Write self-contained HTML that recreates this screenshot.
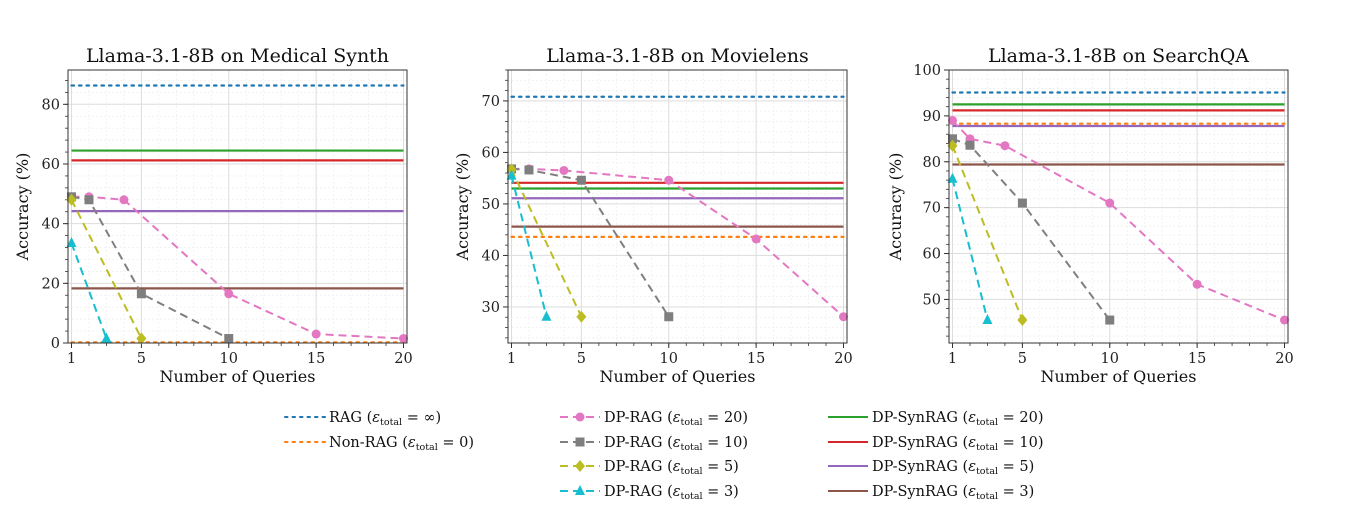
<!DOCTYPE html>
<html><head><meta charset="utf-8"><style>
body{margin:0;background:#fff}
svg{display:block;font-family:"DejaVu Serif","Liberation Serif",serif}
</style></head><body>
<svg id="c" width="1365" height="527" viewBox="0 0 1365 527"></svg>
<script>
const xQueries=[1,2,4,10,15,20];
const xGray=[1,2,5,10];
const xYellow=[1,5];
const xCyan=[1,3];
const titles=["Llama-3.1-8B on Medical Synth","Llama-3.1-8B on Movielens","Llama-3.1-8B on SearchQA"];
const pinkVals=[[49,49,48,16.5,3,1.5],[56.8,56.8,56.5,54.6,43.2,28.1],[89,85,83.5,71,53.3,45.5]];
const grayVals=[[49,48,16.5,1.5],[56.8,56.6,54.6,28.1],[85,83.6,71,45.5]];
const yellowVals=[[48,1.5],[56.7,28.1],[83.5,45.5]];
const cyanVals=[[33.5,1.5],[55.5,28.1],[76.3,45.5]];
const ragVals=[86.3,70.8,95.1];
const nonRagVals=[0.2,43.6,88.3];
const synVals20=[64.5,53,92.5];
const synVals10=[61.2,54.1,91.2];
const synVals5=[44.2,51.1,87.8];
const synVals3=[18.3,45.6,79.4];
const yTicks=[[0,20,40,60,80],[30,40,50,60,70],[50,60,70,80,90,100]];
const yMinorStep=[4,2,2];
const yLims=[[0,91.5],[23,76],[40.5,100]];
const xTicks=[1,5,10,15,20];
const xLim=[0.8,20.2];

const NS="http://www.w3.org/2000/svg";
const svg=document.getElementById('c');
function mk(tag,attrs,parent){const e=document.createElementNS(NS,tag);for(const k in attrs)e.setAttribute(k,attrs[k]);(parent||svg).appendChild(e);return e;}
const lefts=[68,508,949], W=339, TOP=70, BOT=343;
const C={blue:'#1f77b4',orange:'#ff7f0e',green:'#2ca02c',red:'#d62728',purple:'#9467bd',brown:'#8c564b',pink:'#e377c2',gray:'#7f7f7f',olive:'#bcbd22',cyan:'#17becf'};
const DOT='2.5,5', DASH='8,5';

function marker(g,type,x,y,col){
  let m;
  if(type==='o') m=mk('circle',{cx:x,cy:y,r:4.5,fill:col},g);
  else if(type==='s') m=mk('rect',{x:x-4.5,y:y-4.5,width:9,height:9,fill:col},g);
  else if(type==='D') m=mk('polygon',{points:`${x},${y-6} ${x+5},${y} ${x},${y+6} ${x-5},${y}`,fill:col},g);
  else m=mk('polygon',{points:`${x},${y-6} ${x+5},${y+4} ${x-5},${y+4}`,fill:col},g);
  
  
}

for(let p=0;p<3;p++){
  const L=lefts[p], R=L+W;
  const sx=v=>L+(v-xLim[0])/(xLim[1]-xLim[0])*W;
  const sy=v=>BOT-(v-yLims[p][0])/(yLims[p][1]-yLims[p][0])*(BOT-TOP);
  const g=mk('g',{});
  
  
  for(let x=1;x<=20;x++){if(!xTicks.includes(x))mk('line',{x1:sx(x),x2:sx(x),y1:TOP,y2:BOT,stroke:'#eee','stroke-width':0.7,'stroke-dasharray':'2,2'},g);}
  const ms=yMinorStep[p];
  for(let v=Math.ceil(yLims[p][0]/ms)*ms;v<=yLims[p][1];v+=ms){
    mk('line',{x1:L,x2:R,y1:sy(v),y2:sy(v),stroke:'#eee','stroke-width':0.7,'stroke-dasharray':'2,2'},g);
    mk('line',{x1:L-3,x2:L,y1:sy(v),y2:sy(v),stroke:'#333','stroke-width':0.8},g);
  }
  for(let x=1;x<=20;x++)mk('line',{x1:sx(x),x2:sx(x),y1:BOT,y2:BOT+3,stroke:'#333','stroke-width':0.8},g);
  xTicks.forEach(t=>{
    mk('line',{x1:sx(t),x2:sx(t),y1:TOP,y2:BOT,stroke:'#ddd','stroke-width':1},g);
    mk('line',{x1:sx(t),x2:sx(t),y1:BOT,y2:BOT+5,stroke:'#333'},g);
    const tx=mk('text',{x:sx(t),y:BOT+20,'text-anchor':'middle','font-size':14.5,fill:'#222'},g);tx.textContent=t;
    
  });
  yTicks[p].forEach(t=>{
    mk('line',{x1:L,x2:R,y1:sy(t),y2:sy(t),stroke:'#ddd','stroke-width':1},g);
    mk('line',{x1:L-5,x2:L,y1:sy(t),y2:sy(t),stroke:'#333'},g);
    const tx=mk('text',{x:L-8,y:sy(t)+5,'text-anchor':'end','font-size':14.5,fill:'#222'},g);tx.textContent=t;
    
  });
  const hl=(v,col,dotted,name)=>{const l=mk('line',{x1:sx(1),x2:sx(20),y1:sy(v),y2:sy(v),stroke:col,'stroke-width':2.2,'stroke-dasharray':dotted?DOT:'none','stroke-linecap':dotted?'round':'butt'},g);
    };
  hl(ragVals[p],C.blue,true,'rag-line');
  hl(nonRagVals[p],C.orange,true,'non-rag-line');
  hl(synVals20[p],C.green,false,'dp-synrag-20-line');
  hl(synVals10[p],C.red,false,'dp-synrag-10-line');
  hl(synVals5[p],C.purple,false,'dp-synrag-5-line');
  hl(synVals3[p],C.brown,false,'dp-synrag-3-line');
  const series=[[xQueries,pinkVals[p],C.pink,'o','dp-rag-20'],[xGray,grayVals[p],C.gray,'s','dp-rag-10'],[xYellow,yellowVals[p],C.olive,'D','dp-rag-5'],[xCyan,cyanVals[p],C.cyan,'^','dp-rag-3']];
  series.forEach(([xs,ys,col,mt,nm])=>{
    const pl=mk('polyline',{points:xs.map((x,i)=>sx(x)+','+sy(ys[i])).join(' '),fill:'none',stroke:col,'stroke-width':2,'stroke-dasharray':DASH},g);
    
    xs.forEach((x,i)=>marker(g,mt,sx(x),sy(ys[i]),col));
  });
  mk('rect',{x:L,y:TOP,width:W,height:BOT-TOP,fill:'none',stroke:'#333','stroke-width':1},g);
  const tt=mk('text',{x:L+W/2,y:TOP-8,'text-anchor':'middle','font-size':19,fill:'#111'},g);tt.textContent=titles[p];
  
  const xl=mk('text',{x:L+W/2,y:382,'text-anchor':'middle','font-size':16,fill:'#111'},g);xl.textContent='Number of Queries';
  
  const yx=L-(p==2?48:40);
  const yl=mk('text',{x:yx,y:(TOP+BOT)/2,'text-anchor':'middle','font-size':16,fill:'#111',transform:`rotate(-90 ${yx} ${(TOP+BOT)/2})`},g);yl.textContent='Accuracy (%)';
  
}
const legend=[
 [285,417,C.blue,true,null,'RAG','\u221e'],[285,442,C.orange,true,null,'Non-RAG','0'],
 [560,417,C.pink,false,'o','DP-RAG','20'],[560,442,C.gray,false,'s','DP-RAG','10'],[560,466,C.olive,false,'D','DP-RAG','5'],[560,491,C.cyan,false,'^','DP-RAG','3'],
 [828,417,C.green,false,null,'DP-SynRAG','20'],[828,442,C.red,false,null,'DP-SynRAG','10'],[828,466,C.purple,false,null,'DP-SynRAG','5'],[828,491,C.brown,false,null,'DP-SynRAG','3']];
legend.forEach(([x,y,col,dot,mt,lab,eps])=>{
  const g=mk('g',{});
  
  
  mk('line',{x1:x,x2:x+40,y1:y,y2:y,stroke:col,'stroke-width':2,'stroke-dasharray':dot?DOT:(mt?DASH:'none'),'stroke-linecap':dot?'round':'butt'},g);
  if(mt)marker(g,mt,x+20,y,col);
  const t=mk('text',{x:x+44,y:y+5,'font-size':14.5,fill:'#111'},g);
  t.appendChild(document.createTextNode(lab+' ('));
  const e1=mk('tspan',{'font-style':'italic'},t);e1.textContent='ε';
  const e2=mk('tspan',{'font-size':9.5,dy:3},t);e2.textContent='total';
  const e3=mk('tspan',{dy:-3},t);e3.textContent=' = '+eps+')';
});
</script>
</body></html>
